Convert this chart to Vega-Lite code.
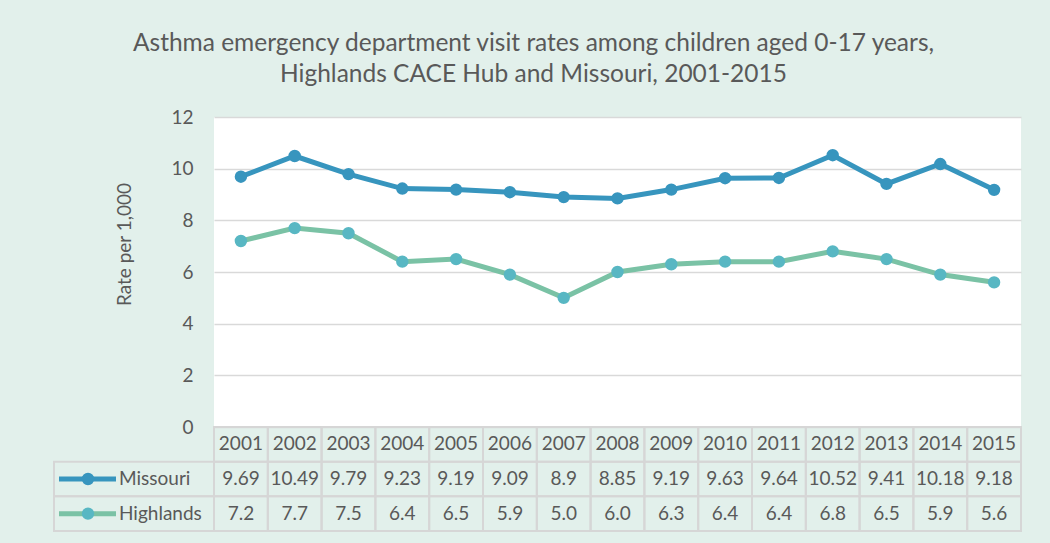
{
  "$schema": "https://vega.github.io/schema/vega-lite/v6.json",
  "background": "#e2f0eb",
  "padding": {"left": 53, "top": 30, "right": 30, "bottom": 11},
  "title": {
    "text": ["Asthma emergency department visit rates among children aged 0-17 years,", "Highlands CACE Hub and Missouri, 2001-2015"],
    "font": "Lato",
    "fontSize": 24.5,
    "fontWeight": "normal",
    "color": "#595959",
    "lineHeight": 31,
    "anchor": "middle",
    "dx": -4,
    "offset": 21
  },
  "config": {
    "font": "Lato",
    "text": {"font": "Lato", "color": "#595959"}
  },
  "datasets": {
    "rates": [
      {"year": "2001", "series": "Missouri", "value": 9.69},
      {"year": "2002", "series": "Missouri", "value": 10.49},
      {"year": "2003", "series": "Missouri", "value": 9.79},
      {"year": "2004", "series": "Missouri", "value": 9.23},
      {"year": "2005", "series": "Missouri", "value": 9.19},
      {"year": "2006", "series": "Missouri", "value": 9.09},
      {"year": "2007", "series": "Missouri", "value": 8.9},
      {"year": "2008", "series": "Missouri", "value": 8.85},
      {"year": "2009", "series": "Missouri", "value": 9.19},
      {"year": "2010", "series": "Missouri", "value": 9.63},
      {"year": "2011", "series": "Missouri", "value": 9.64},
      {"year": "2012", "series": "Missouri", "value": 10.52},
      {"year": "2013", "series": "Missouri", "value": 9.41},
      {"year": "2014", "series": "Missouri", "value": 10.18},
      {"year": "2015", "series": "Missouri", "value": 9.18},
      {"year": "2001", "series": "Highlands", "value": 7.2},
      {"year": "2002", "series": "Highlands", "value": 7.7},
      {"year": "2003", "series": "Highlands", "value": 7.5},
      {"year": "2004", "series": "Highlands", "value": 6.4},
      {"year": "2005", "series": "Highlands", "value": 6.5},
      {"year": "2006", "series": "Highlands", "value": 5.9},
      {"year": "2007", "series": "Highlands", "value": 5.0},
      {"year": "2008", "series": "Highlands", "value": 6.0},
      {"year": "2009", "series": "Highlands", "value": 6.3},
      {"year": "2010", "series": "Highlands", "value": 6.4},
      {"year": "2011", "series": "Highlands", "value": 6.4},
      {"year": "2012", "series": "Highlands", "value": 6.8},
      {"year": "2013", "series": "Highlands", "value": 6.5},
      {"year": "2014", "series": "Highlands", "value": 5.9},
      {"year": "2015", "series": "Highlands", "value": 5.6}
    ]
  },
  "columns": 2,
  "spacing": 0,
  "bounds": "flush",
  "concat": [
    {
      "width": 160,
      "height": 310,
      "view": {"stroke": null, "fill": null},
      "data": {"values": []},
      "mark": "point",
      "encoding": {}
    },
    {
      "width": 807,
      "height": 310,
      "view": {"stroke": null, "fill": "#ffffff"},
      "data": {"name": "rates"},
      "encoding": {
        "x": {"field": "year", "type": "ordinal", "axis": null, "scale": {"type": "point", "padding": 0.5}},
        "y": {
          "field": "value",
          "type": "quantitative",
          "scale": {"domain": [0, 12], "nice": false},
          "axis": {
            "values": [0, 2, 4, 6, 8, 10, 12],
            "title": "Rate per 1,000",
            "titleFont": "Lato",
            "titleFontSize": 19,
            "titleFontWeight": "normal",
            "titleColor": "#595959",
            "titleX": -90,
            "titleY": 127,
            "titleAngle": -90,
            "titleAlign": "center",
            "titleBaseline": "middle",
            "labelFont": "Lato",
            "labelFontSize": 19,
            "labelColor": "#595959",
            "labelPadding": 21,
            "ticks": false,
            "domain": false,
            "grid": true,
            "gridColor": "#d9d9d9",
            "gridWidth": 1.5
          }
        }
      },
      "layer": [
        {
          "mark": {"type": "line", "strokeWidth": 5},
          "encoding": {
            "color": {"field": "series", "type": "nominal", "legend": null,
              "scale": {"domain": ["Missouri", "Highlands"], "range": ["#3795be", "#7ac2a5"]}}
          }
        },
        {
          "mark": {"type": "point", "filled": true, "size": 154, "opacity": 1, "shape": "circle"},
          "encoding": {
            "fill": {"field": "series", "type": "nominal", "legend": null,
              "scale": {"domain": ["Missouri", "Highlands"], "range": ["#3795be", "#58b7c3"]}}
          }
        }
      ]
    },
    {
      "width": 160,
      "height": 104,
      "view": {"stroke": null, "fill": null},
      "data": {"name": "rates"},
      "transform": [{"filter": "datum.year == '2001'"}],
      "encoding": {
        "y": {"field": "series", "type": "nominal", "axis": null,
          "scale": {"domain": ["Year", "Missouri", "Highlands"], "paddingInner": 0, "paddingOuter": 0}}
      },
      "layer": [
        {
          "mark": {"type": "rect", "fill": null, "stroke": "#d6d6d6", "strokeWidth": 2}
        },
        {
          "mark": {"type": "rule", "strokeWidth": 5},
          "encoding": {
            "x": {"datum": 5, "type": "quantitative", "scale": {"domain": [0, 160], "nice": false, "zero": false}, "axis": null},
            "x2": {"datum": 62},
            "color": {"field": "series", "type": "nominal", "legend": null,
              "scale": {"domain": ["Missouri", "Highlands"], "range": ["#3795be", "#7ac2a5"]}}
          }
        },
        {
          "mark": {"type": "point", "filled": true, "size": 154, "opacity": 1, "shape": "circle"},
          "encoding": {
            "x": {"datum": 34, "type": "quantitative"},
            "fill": {"field": "series", "type": "nominal", "legend": null,
              "scale": {"domain": ["Missouri", "Highlands"], "range": ["#3795be", "#58b7c3"]}}
          }
        },
        {
          "mark": {"type": "text", "align": "left", "baseline": "middle", "fontSize": 19, "color": "#595959"},
          "encoding": {
            "x": {"datum": 65, "type": "quantitative"},
            "text": {"field": "series", "type": "nominal"}
          }
        }
      ]
    },
    {
      "width": 807,
      "height": 104,
      "view": {"stroke": null, "fill": null},
      "data": {"name": "rates"},
      "encoding": {
        "x": {"field": "year", "type": "ordinal", "axis": null,
          "scale": {"type": "band", "paddingInner": 0, "paddingOuter": 0}}
      },
      "layer": [
        {
          "mark": {"type": "rect", "fill": null, "stroke": "#d6d6d6", "strokeWidth": 2},
          "encoding": {
            "y": {"field": "series", "type": "nominal", "axis": null,
              "scale": {"domain": ["Year", "Missouri", "Highlands"], "paddingInner": 0, "paddingOuter": 0}}
          }
        },
        {
          "transform": [{"filter": "datum.series == 'Missouri'"}],
          "mark": {"type": "rect", "fill": null, "stroke": "#d6d6d6", "strokeWidth": 2},
          "encoding": {
            "y": {"datum": "Year", "type": "nominal"}
          }
        },
        {
          "transform": [{"filter": "datum.series == 'Missouri'"}],
          "mark": {"type": "text", "baseline": "middle", "fontSize": 19, "color": "#595959"},
          "encoding": {
            "y": {"datum": "Year", "type": "nominal"},
            "text": {"field": "year", "type": "nominal"}
          }
        },
        {
          "transform": [{"filter": "datum.series == 'Missouri'"}],
          "mark": {"type": "text", "baseline": "middle", "fontSize": 19, "color": "#595959"},
          "encoding": {
            "y": {"field": "series", "type": "nominal"},
            "text": {"field": "value", "type": "nominal"}
          }
        },
        {
          "transform": [{"filter": "datum.series == 'Highlands'"}],
          "mark": {"type": "text", "baseline": "middle", "fontSize": 19, "color": "#595959"},
          "encoding": {
            "y": {"field": "series", "type": "nominal"},
            "text": {"field": "value", "type": "quantitative", "format": ".1f"}
          }
        }
      ]
    }
  ]
}
